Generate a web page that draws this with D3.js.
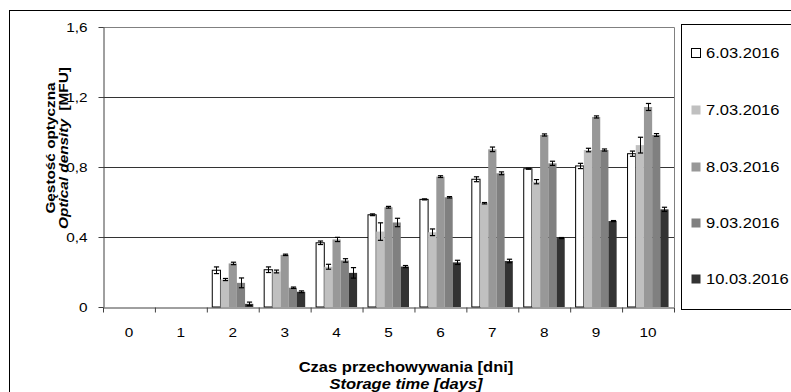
<!DOCTYPE html>
<html>
<head>
<meta charset="utf-8">
<script src="https://cdn.jsdelivr.net/npm/d3@7"></script>
<style>
  html, body { margin: 0; padding: 0; background: #fff; }
  svg { display: block; }
  text { font-family: "Liberation Sans", Arial, sans-serif; fill: #000; }
</style>
</head>
<body>
<svg id="chart" width="791" height="392"></svg>
<script>
// Storage days (categories on the x axis)
const days = ["0", "1", "2", "3", "4", "5", "6", "7", "8", "9", "10"];

// Sampling dates (series)
const seriesNames = ["6.03.2016", "7.03.2016", "8.03.2016", "9.03.2016", "10.03.2016"];
const seriesColors = ["#ffffff", "#c0c0c0", "#989898", "#808080", "#333333"];

// Mean optical density per storage day (null = not measured)
const od_0603 = [null, null, 0.210, 0.213, 0.367, 0.527, 0.615, 0.730, 0.790, 0.806, 0.876];
const od_0703 = [null, null, 0.157, 0.203, 0.230, 0.431, 0.427, 0.593, 0.716, 0.897, 0.925];
const od_0803 = [null, null, 0.249, 0.298, 0.386, 0.570, 0.745, 0.901, 0.983, 1.086, 1.143];
const od_0903 = [null, null, 0.138, 0.110, 0.266, 0.483, 0.627, 0.764, 0.821, 0.897, 0.983];
const od_1003 = [null, null, 0.018, 0.087, 0.195, 0.231, 0.255, 0.263, 0.394, 0.491, 0.558];

// Standard deviations (error bars)
const sd_0603 = [null, null, 0.019, 0.016, 0.010, 0.005, 0.003, 0.014, 0.003, 0.015, 0.015];
const sd_0703 = [null, null, 0.006, 0.008, 0.014, 0.050, 0.019, 0.004, 0.012, 0.010, 0.045];
const sd_0803 = [null, null, 0.007, 0.004, 0.012, 0.005, 0.005, 0.013, 0.006, 0.006, 0.020];
const sd_0903 = [null, null, 0.028, 0.004, 0.010, 0.024, 0.004, 0.008, 0.012, 0.006, 0.008];
const sd_1003 = [null, null, 0.010, 0.005, 0.030, 0.006, 0.012, 0.010, 0.003, 0.003, 0.012];

// Y axis ticks
const yTicks = [0, 0.4, 0.8, 1.2, 1.6];

const means = [od_0603, od_0703, od_0803, od_0903, od_1003];
const sds = [sd_0603, sd_0703, sd_0803, sd_0903, sd_1003];

// Flat records for drawing
const records = [];
days.forEach((d, i) => {
  seriesNames.forEach((s, j) => {
    if (means[j][i] !== null) {
      records.push({ day: d, series: s, idx: j, value: means[j][i], sd: sds[j][i] });
    }
  });
});

const svg = d3.select("#chart");
const SX = 1.18; // horizontal stretch of all lettering

const plot = { left: 103, right: 674, top: 27, bottom: 307 };

const x0 = d3.scaleBand().domain(days).range([plot.left, plot.right]).paddingInner(0).paddingOuter(0);
const bw = x0.bandwidth();
const pad = bw * 0.105;
const x1 = d3.scaleBand().domain(seriesNames).range([pad, bw - pad]).padding(0);
const y = d3.scaleLinear().domain([0, 1.6]).range([plot.bottom, plot.top]);
const color = d3.scaleOrdinal().domain(seriesNames).range(seriesColors);

// Outer frame
svg.append("rect")
  .attr("x", 9.5).attr("y", 10.5)
  .attr("width", 800).attr("height", 400)
  .attr("fill", "none").attr("stroke", "#000").attr("stroke-width", 1);

// Plot-area border (top and right)
svg.append("path")
  .attr("d", `M${plot.left},${plot.top + 0.5}H${plot.right + 0.5}V${plot.bottom}`)
  .attr("fill", "none").attr("stroke", "#808080");

// Gridlines
svg.append("g")
  .selectAll("line")
  .data(yTicks.filter(t => t > 0 && t < 1.6))
  .join("line")
  .attr("x1", plot.left).attr("x2", plot.right)
  .attr("y1", d => Math.round(y(d)) + 0.5).attr("y2", d => Math.round(y(d)) + 0.5)
  .attr("stroke", "#333").attr("stroke-width", 1);

// Bars
const groups = svg.append("g")
  .selectAll("g")
  .data(records)
  .join("g");

groups.append("rect")
  .attr("x", d => x0(d.day) + x1(d.series))
  .attr("y", d => y(d.value))
  .attr("width", x1.bandwidth())
  .attr("height", d => y(0) - y(d.value))
  .attr("fill", d => color(d.series))
  .attr("stroke", d => d.idx === 0 ? "#000" : "none")
  .attr("stroke-width", 1);

// Error bars
const cap = 2.6;
groups.each(function (d) {
  const g = d3.select(this);
  const cx = Math.round(x0(d.day) + x1(d.series) + x1.bandwidth() / 2) + 0.5;
  const yHi = y(d.value + d.sd), yLo = y(d.value - d.sd);
  g.append("line").attr("x1", cx).attr("x2", cx).attr("y1", yHi).attr("y2", yLo)
    .attr("stroke", "#000").attr("stroke-width", 1);
  g.append("line").attr("x1", cx - cap).attr("x2", cx + cap).attr("y1", yHi).attr("y2", yHi)
    .attr("stroke", "#000").attr("stroke-width", 1.2);
  g.append("line").attr("x1", cx - cap).attr("x2", cx + cap).attr("y1", yLo).attr("y2", yLo)
    .attr("stroke", "#000").attr("stroke-width", 1.2);
});

// Y axis
const yAxis = d3.axisLeft(y)
  .tickValues(yTicks)
  .tickSize(5)
  .tickSizeOuter(0)
  .tickFormat(d => d === 0 ? "0" : d3.format(".1f")(d).replace(".", ","));
const gy = svg.append("g")
  .attr("transform", `translate(${plot.left + 0.5},0)`)
  .call(yAxis);
gy.select(".domain").attr("stroke", "#404040");
gy.selectAll(".tick line").attr("stroke", "#404040");
gy.selectAll(".tick text")
  .attr("x", -16 / SX)
  .attr("transform", `scale(${SX},1)`)
  .style("font-size", "13px")
  .attr("fill", "#000");

// X axis: boundary ticks
const xEdges = d3.scaleLinear().domain([0, days.length]).range([plot.left, plot.right]);
const gxTicks = svg.append("g")
  .attr("transform", `translate(0,${plot.bottom + 0.5})`)
  .call(d3.axisBottom(xEdges).tickValues(d3.range(0, days.length + 1)).tickSize(5).tickSizeOuter(0).tickFormat(""));
gxTicks.select(".domain").attr("stroke", "#404040");
gxTicks.selectAll(".tick line").attr("stroke", "#404040");

// X axis: category labels
const gx = svg.append("g")
  .attr("transform", `translate(0,${plot.bottom})`)
  .call(d3.axisBottom(x0).tickSize(0).tickPadding(0));
gx.select(".domain").remove();
gx.selectAll(".tick text")
  .attr("y", 0)
  .attr("dy", 0)
  .attr("transform", `translate(0,30) scale(${SX},1)`)
  .style("font-size", "13px")
  .attr("fill", "#000");

// X axis title
const xt = svg.append("g").style("font-weight", "bold").style("font-size", "14px").attr("text-anchor", "middle");
xt.append("text").attr("transform", `translate(406,372) scale(${SX},1)`).text("Czas przechowywania [dni]");
xt.append("text").attr("transform", `translate(406,389) scale(${SX},1)`).style("font-style", "italic").text("Storage time [days]");

// Y axis title
const yt = svg.append("g").style("font-weight", "bold").style("font-size", "13px").attr("text-anchor", "middle");
yt.append("text").attr("transform", `translate(55,148) rotate(-90) scale(${SX},1)`).text("Gęstość optyczna");
const yt2 = yt.append("text").attr("transform", `translate(68,148) rotate(-90) scale(${SX},1)`);
yt2.append("tspan").style("font-style", "italic").text("Optical density");
yt2.append("tspan").text("\u00a0 [MFU]");

// Legend
const legend = svg.append("g");
legend.append("rect")
  .attr("x", 681.5).attr("y", 24.5).attr("width", 200).attr("height", 285)
  .attr("fill", "#fff").attr("stroke", "#000");
const legendY = [53, 110, 167, 223, 279];
const li = legend.selectAll("g.item")
  .data(seriesNames)
  .join("g")
  .attr("class", "item")
  .attr("transform", (d, i) => `translate(0,${legendY[i]})`);
li.append("rect")
  .attr("x", 691.5).attr("y", -4.5).attr("width", 9).attr("height", 9)
  .attr("fill", d => color(d))
  .attr("stroke", (d, i) => i === 0 ? "#000" : "none");
li.append("text")
  .attr("transform", `translate(706,5) scale(${SX},1)`)
  .style("font-size", "14px")
  .text(d => d);
</script>
</body>
</html>
